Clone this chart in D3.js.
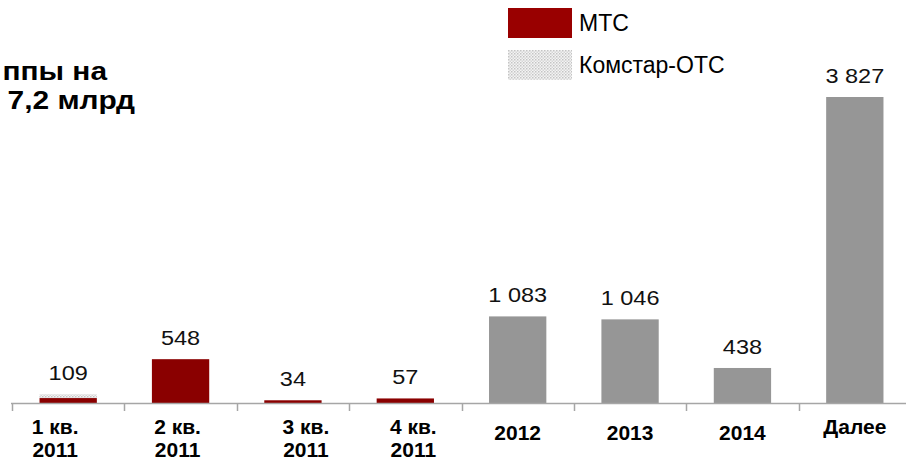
<!DOCTYPE html>
<html>
<head>
<meta charset="utf-8">
<script src="https://cdn.jsdelivr.net/npm/d3@7"></script>
<style>
  body{margin:0;background:#fff;}
  svg{display:block;font-family:"Liberation Sans",Arial,sans-serif;}
</style>
</head>
<body>
<div id="chart"></div>
<script>
// данные
const periods=[["1 кв.","2011"],["2 кв.","2011"],["3 кв.","2011"],["4 кв.","2011"],["2012"],["2013"],["2014"],["Далее"]];
const mtsVals=[62,548,34,57,0,0,0,0];
const komstarVals=[47,0,0,0,0,0,0,0];
const groupVals=[0,0,0,0,1083,1046,438,3827];
const totalLabels=["109","548","34","57","1 083","1 046","438","3 827"];
const titleLines=["ппы на","7,2 млрд"];
const legendItems=["МТС","Комстар-ОТС"];

const W=906,H=461;
const RED="#8a0000",GREY="#969696",AX="#a6a6a6";
const labelShift=[-13,-3,13,8,0,0,0,0];

const svg=d3.select("#chart").append("svg").attr("width",W).attr("height",H);

const pat=svg.append("defs").append("pattern").attr("id","dots")
  .attr("width",3).attr("height",3).attr("patternUnits","userSpaceOnUse");
pat.append("rect").attr("width",3).attr("height",3).attr("fill","#f4f4f4");
pat.append("rect").attr("width",1.5).attr("height",1.5).attr("fill","#c4c4c4");
pat.append("rect").attr("x",1.5).attr("y",1.5).attr("width",1.5).attr("height",1.5).attr("fill","#d6d6d6");

const keys=periods.map((p,i)=>"c"+i);
const x=d3.scaleBand().domain(keys).range([12,911]).paddingInner(0.49).paddingOuter(0.245);
const y=d3.scaleLinear().domain([0,d3.max(groupVals)]).range([403,97]);

const rows=keys.map((k,i)=>({k,mts:mtsVals[i],komstar:komstarVals[i],group:groupVals[i]}));
const stack=d3.stack().keys(["mts","komstar","group"])(rows);
const fills={mts:RED,komstar:"url(#dots)",group:GREY};

stack.forEach(s=>{
  svg.append("g").selectAll("rect").data(s.filter(d=>d[1]>d[0])).join("rect")
    .attr("x",d=>x(d.data.k)).attr("width",x.bandwidth())
    .attr("y",d=>y(d[1])).attr("height",d=>y(d[0])-y(d[1]))
    .attr("fill",fills[s.key]);
});

// подписи значений (шрифт в оригинале чуть растянут по горизонтали)
svg.append("g").selectAll("text").data(rows).join("text")
  .attr("transform",d=>`translate(${x(d.k)+x.bandwidth()/2},${y(d.mts+d.komstar+d.group)-14}) scale(1.12,1)`)
  .attr("text-anchor","middle").attr("font-size",21).attr("fill","#111")
  .text((d,i)=>totalLabels[i]);

// ось X
const step=x.step(),half=step*x.paddingInner()/2;
svg.append("line").attr("x1",11).attr("x2",W).attr("y1",403.5).attr("y2",403.5)
  .attr("stroke",AX).attr("stroke-width",1.5);
svg.append("g").selectAll("line").data(keys).join("line")
  .attr("x1",d=>Math.round(x(d)-half)+0.5).attr("x2",d=>Math.round(x(d)-half)+0.5)
  .attr("y1",403).attr("y2",411).attr("stroke",AX).attr("stroke-width",1.5);

const xl=svg.append("g").selectAll("text").data(periods).join("text")
  .attr("transform",(d,i)=>`translate(${x(keys[i])+x.bandwidth()/2+labelShift[i]},${d.length===2||i===7?434:440}) scale(1.05,1)`)
  .attr("text-anchor","middle").attr("font-size",20).attr("font-weight","bold").attr("fill","#000");
xl.selectAll("tspan").data(d=>d).join("tspan")
  .attr("x",0).attr("dy",(d,i)=>i?23:0).text(d=>d);

// заголовок
svg.append("g").selectAll("text").data(titleLines).join("text")
  .attr("transform",(d,i)=>`translate(${i?135:107},${80+i*29}) scale(1.15,1)`)
  .attr("text-anchor","end").attr("font-size",26).attr("font-weight","bold").attr("fill","#000")
  .text(d=>d);

// легенда
const lg=svg.append("g").selectAll("g").data(legendItems).join("g")
  .attr("transform",(d,i)=>`translate(508,${8+i*42})`);
lg.append("rect").attr("width",64).attr("height",30).attr("fill",(d,i)=>i?"url(#dots)":"#990000");
lg.append("text").attr("x",71).attr("y",23).attr("font-size",23).attr("fill","#000").text(d=>d);
</script>
</body>
</html>
